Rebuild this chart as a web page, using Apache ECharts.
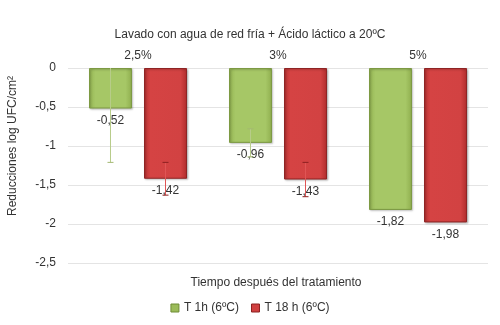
<!DOCTYPE html>
<html><head><meta charset="utf-8">
<script src="https://cdn.jsdelivr.net/npm/echarts@6/dist/echarts.min.js"></script>
<style>html,body{margin:0;padding:0;background:#fff}#c{width:500px;height:325px}</style>
</head><body><div id="c"></div>
<script>
var categories = ['2,5%', '3%', '5%'];
var seriesNames = ['T 1h (6ºC)', 'T 18 h (6ºC)'];
var green = [-0.52, -0.96, -1.82];
var red = [-1.42, -1.43, -1.98];
var greenErr = [0.69, 0.18, 0];
var redErr = [0.21, 0.22, 0];
var yTicks = [0, -0.5, -1, -1.5, -2, -2.5];

var FONT = 'Liberation Sans, Arial, sans-serif';
function fmt(v){ return String(v).replace('.', ','); }

var BAR_CAT_GAP = 0.30, BAR_GAP = 0.28;

function errSeries(vals, errs, idx, color, capColor){
  return {
    type: 'custom', z: 5, silent: true, name: seriesNames[idx] + ' err',
    data: vals.map(function(v,i){ return [i, v, errs[i]]; }),
    renderItem: function(params, api){
      var e = api.value(2);
      if (!e) return null;
      var v = api.value(1);
      var band = api.size([1,0])[0];
      var bw = band*(1-BAR_CAT_GAP)/(2+BAR_GAP);
      var off = bw*(1+BAR_GAP)/2 * (idx === 0 ? -1 : 1);
      var hi = v + e, lo = v - e;
      var clipped = hi > 0;
      var top = api.coord([api.value(0), Math.min(hi, 0)]);
      var bot = api.coord([api.value(0), lo]);
      var x = top[0] + off;
      var children = [
        {type:'line', shape:{x1:x,y1:top[1],x2:x,y2:bot[1]}, style:{stroke:color,lineWidth:1}},
        {type:'line', shape:{x1:x-3,y1:bot[1],x2:x+3,y2:bot[1]}, style:{stroke:capColor,lineWidth:1}}
      ];
      if (!clipped) children.push({type:'line', shape:{x1:x-3,y1:top[1],x2:x+3,y2:top[1]}, style:{stroke:capColor,lineWidth:1}});
      return {type:'group', children: children};
    }
  };
}

var greenFill = new echarts.graphic.LinearGradient(0,0,1,0,[
  {offset:0,color:'#93b452'},{offset:0.15,color:'#a6c766'},{offset:0.85,color:'#a6c766'},{offset:1,color:'#8fae4e'}]);
var redFill = new echarts.graphic.LinearGradient(0,0,1,0,[
  {offset:0,color:'#b83232'},{offset:0.15,color:'#d54343'},{offset:0.85,color:'#d24242'},{offset:1,color:'#b02c2c'}]);

var chart = echarts.init(document.getElementById('c'), null, {renderer:'canvas'});
chart.setOption({
  animation: false,
  textStyle: {fontFamily: FONT},
  title: [
    {text: 'Lavado con agua de red fría + Ácido láctico a 20ºC', left: 'center', top: 24,
     textStyle: {fontSize: 12, fontWeight: 'normal', color: '#333', fontFamily: FONT}},
    {text: 'Tiempo después del tratamiento', left: 271, textAlign: 'center', top: 272,
     textStyle: {fontSize: 12, fontWeight: 'normal', color: '#333', fontFamily: FONT}}
  ],
  graphic: [{
    type: 'text', x: 13, y: 146, rotation: Math.PI/2,
    style: {text: 'Reducciones log UFC/cm²', fontSize: 12, fill: '#333', fontFamily: FONT,
            align: 'center', verticalAlign: 'middle'}
  }],
  legend: {
    bottom: 6, left: 'center', itemWidth: 8, itemHeight: 8, itemGap: 12,
    data: [{name: seriesNames[0], icon: 'rect', itemStyle:{color:'#9bbb59', borderColor:'#6f8c35', borderWidth:1}},
           {name: seriesNames[1], icon: 'rect', itemStyle:{color:'#d04040', borderColor:'#8c2020', borderWidth:1}}],
    textStyle: {fontSize: 12, color: '#333', fontFamily: FONT}
  },
  grid: {left: 68, right: 12, top: 68, bottom: 62},
  xAxis: {
    type: 'category', position: 'top', data: categories,
    axisLine: {show: false}, axisTick: {show: false},
    axisLabel: {fontSize: 12, color: '#333', margin: 6, fontFamily: FONT}
  },
  yAxis: {
    type: 'value', min: -2.5, max: 0, interval: 0.5,
    axisLine: {show: false}, axisTick: {show: false},
    axisLabel: {fontSize: 12, color: '#333', margin: 12, formatter: function(v){ return fmt(v); }},
    splitLine: {lineStyle: {color: '#e4e4e4', width: 1}}
  },
  series: [
    {name: seriesNames[0], type: 'bar', data: green, barCategoryGap: (BAR_CAT_GAP*100)+'%', barGap: (BAR_GAP*100)+'%',
     itemStyle: {color: greenFill, borderColor: '#7d9a43', borderWidth: 1, shadowColor:'rgba(0,0,0,0.25)', shadowBlur:2, shadowOffsetX:1, shadowOffsetY:1},
     label: {show: true, position: 'bottom', distance: 6, fontSize: 12, color: '#333', fontFamily: FONT, formatter: function(p){ return fmt(p.value); }}},
    {name: seriesNames[1], type: 'bar', data: red,
     itemStyle: {color: redFill, borderColor: '#8e2424', borderWidth: 1, shadowColor:'rgba(0,0,0,0.25)', shadowBlur:2, shadowOffsetX:1, shadowOffsetY:1},
     label: {show: true, position: 'bottom', distance: 6, fontSize: 12, color: '#333', fontFamily: FONT, formatter: function(p){ return fmt(p.value); }}},
    errSeries(green, greenErr, 0, '#b8cc8a', '#a3b872'),
    errSeries(red, redErr, 1, '#e05555', '#8e2020')
  ]
});
</script></body></html>
